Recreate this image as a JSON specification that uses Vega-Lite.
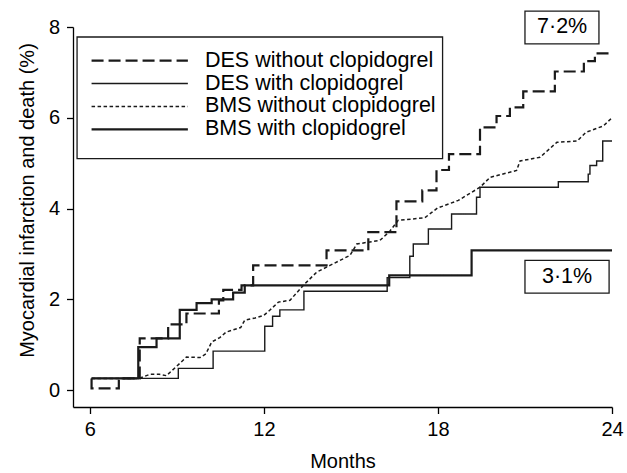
{
  "$schema": "https://vega.github.io/schema/vega-lite/v6.json",
  "width": 539,
  "height": 380,
  "autosize": {"type": "none"},
  "padding": {"left": 73, "top": 27, "right": 15, "bottom": 66},
  "background": "white",
  "config": {
    "view": {"stroke": null},
    "font": "Liberation Sans",
    "axis": {
      "domainColor": "#000", "tickColor": "#000", "labelColor": "#000", "titleColor": "#000",
      "labelFontSize": 20, "titleFontSize": 20, "titleFontWeight": "normal", "labelFlush": false,
      "grid": false, "tickSize": 6.5, "domainWidth": 1.3, "tickWidth": 1.3, "labelPadding": 6
    }
  },
  "datasets": {
    "curves": [
      {"s": "DES without clopidogrel", "m": 6.06, "v": 0.26},
      {"s": "DES without clopidogrel", "m": 6.06, "v": 0.04},
      {"s": "DES without clopidogrel", "m": 7.0, "v": 0.26},
      {"s": "DES without clopidogrel", "m": 7.72, "v": 1.14},
      {"s": "DES without clopidogrel", "m": 8.7, "v": 1.45},
      {"s": "DES without clopidogrel", "m": 9.33, "v": 1.69},
      {"s": "DES without clopidogrel", "m": 10.45, "v": 1.98},
      {"s": "DES without clopidogrel", "m": 10.6, "v": 2.21},
      {"s": "DES without clopidogrel", "m": 11.23, "v": 2.31},
      {"s": "DES without clopidogrel", "m": 11.63, "v": 2.75},
      {"s": "DES without clopidogrel", "m": 14.16, "v": 3.08},
      {"s": "DES without clopidogrel", "m": 15.6, "v": 3.48},
      {"s": "DES without clopidogrel", "m": 16.57, "v": 4.16},
      {"s": "DES without clopidogrel", "m": 17.46, "v": 4.4},
      {"s": "DES without clopidogrel", "m": 17.95, "v": 4.85},
      {"s": "DES without clopidogrel", "m": 18.38, "v": 5.2},
      {"s": "DES without clopidogrel", "m": 19.45, "v": 5.79},
      {"s": "DES without clopidogrel", "m": 20.02, "v": 6.04},
      {"s": "DES without clopidogrel", "m": 20.48, "v": 6.23},
      {"s": "DES without clopidogrel", "m": 20.94, "v": 6.58},
      {"s": "DES without clopidogrel", "m": 22.03, "v": 7.02},
      {"s": "DES without clopidogrel", "m": 23.03, "v": 7.25},
      {"s": "DES without clopidogrel", "m": 23.41, "v": 7.42},
      {"s": "DES without clopidogrel", "m": 24.0, "v": 7.42},
      {"s": "DES with clopidogrel", "m": 6.06, "v": 0.26},
      {"s": "DES with clopidogrel", "m": 9.05, "v": 0.48},
      {"s": "DES with clopidogrel", "m": 10.25, "v": 0.86},
      {"s": "DES with clopidogrel", "m": 12.03, "v": 1.41},
      {"s": "DES with clopidogrel", "m": 12.3, "v": 1.63},
      {"s": "DES with clopidogrel", "m": 12.55, "v": 1.77},
      {"s": "DES with clopidogrel", "m": 13.38, "v": 2.18},
      {"s": "DES with clopidogrel", "m": 16.25, "v": 2.48},
      {"s": "DES with clopidogrel", "m": 17.03, "v": 2.95},
      {"s": "DES with clopidogrel", "m": 17.15, "v": 3.22},
      {"s": "DES with clopidogrel", "m": 17.67, "v": 3.55},
      {"s": "DES with clopidogrel", "m": 18.47, "v": 3.88},
      {"s": "DES with clopidogrel", "m": 19.33, "v": 4.25},
      {"s": "DES with clopidogrel", "m": 19.45, "v": 4.47},
      {"s": "DES with clopidogrel", "m": 22.15, "v": 4.59},
      {"s": "DES with clopidogrel", "m": 23.18, "v": 4.76},
      {"s": "DES with clopidogrel", "m": 23.24, "v": 4.95},
      {"s": "DES with clopidogrel", "m": 23.47, "v": 5.05},
      {"s": "DES with clopidogrel", "m": 23.68, "v": 5.49},
      {"s": "DES with clopidogrel", "m": 24.0, "v": 5.49},
      {"s": "BMS with clopidogrel", "m": 6.06, "v": 0.26},
      {"s": "BMS with clopidogrel", "m": 7.67, "v": 0.95},
      {"s": "BMS with clopidogrel", "m": 8.3, "v": 1.14},
      {"s": "BMS with clopidogrel", "m": 9.1, "v": 1.77},
      {"s": "BMS with clopidogrel", "m": 9.68, "v": 1.92},
      {"s": "BMS with clopidogrel", "m": 10.2, "v": 2.0},
      {"s": "BMS with clopidogrel", "m": 10.94, "v": 2.15},
      {"s": "BMS with clopidogrel", "m": 11.34, "v": 2.31},
      {"s": "BMS with clopidogrel", "m": 16.32, "v": 2.53},
      {"s": "BMS with clopidogrel", "m": 19.16, "v": 3.08},
      {"s": "BMS with clopidogrel", "m": 24.0, "v": 3.08},
      {"s": "BMS without clopidogrel", "m": 6.06, "v": 0.26},
      {"s": "BMS without clopidogrel", "m": 7.7, "v": 0.26},
      {"s": "BMS without clopidogrel", "m": 8.07, "v": 0.35},
      {"s": "BMS without clopidogrel", "m": 8.4, "v": 0.35},
      {"s": "BMS without clopidogrel", "m": 8.64, "v": 0.32},
      {"s": "BMS without clopidogrel", "m": 9.1, "v": 0.59},
      {"s": "BMS without clopidogrel", "m": 9.33, "v": 0.73},
      {"s": "BMS without clopidogrel", "m": 9.8, "v": 0.72},
      {"s": "BMS without clopidogrel", "m": 10.0, "v": 0.8},
      {"s": "BMS without clopidogrel", "m": 10.2, "v": 1.06},
      {"s": "BMS without clopidogrel", "m": 10.48, "v": 1.16},
      {"s": "BMS without clopidogrel", "m": 10.7, "v": 1.28},
      {"s": "BMS without clopidogrel", "m": 11.2, "v": 1.38},
      {"s": "BMS without clopidogrel", "m": 11.34, "v": 1.54},
      {"s": "BMS without clopidogrel", "m": 11.7, "v": 1.59},
      {"s": "BMS without clopidogrel", "m": 12.0, "v": 1.65},
      {"s": "BMS without clopidogrel", "m": 12.2, "v": 1.76},
      {"s": "BMS without clopidogrel", "m": 12.5, "v": 1.94},
      {"s": "BMS without clopidogrel", "m": 12.9, "v": 1.98},
      {"s": "BMS without clopidogrel", "m": 13.36, "v": 2.31},
      {"s": "BMS without clopidogrel", "m": 13.82, "v": 2.6},
      {"s": "BMS without clopidogrel", "m": 14.28, "v": 2.75},
      {"s": "BMS without clopidogrel", "m": 14.97, "v": 2.97},
      {"s": "BMS without clopidogrel", "m": 15.2, "v": 3.22},
      {"s": "BMS without clopidogrel", "m": 16.0, "v": 3.3},
      {"s": "BMS without clopidogrel", "m": 16.34, "v": 3.5},
      {"s": "BMS without clopidogrel", "m": 16.63, "v": 3.74},
      {"s": "BMS without clopidogrel", "m": 17.55, "v": 3.8},
      {"s": "BMS without clopidogrel", "m": 17.98, "v": 4.01},
      {"s": "BMS without clopidogrel", "m": 18.7, "v": 4.18},
      {"s": "BMS without clopidogrel", "m": 19.45, "v": 4.47},
      {"s": "BMS without clopidogrel", "m": 19.8, "v": 4.69},
      {"s": "BMS without clopidogrel", "m": 20.71, "v": 4.84},
      {"s": "BMS without clopidogrel", "m": 20.83, "v": 5.05},
      {"s": "BMS without clopidogrel", "m": 21.52, "v": 5.13},
      {"s": "BMS without clopidogrel", "m": 22.1, "v": 5.46},
      {"s": "BMS without clopidogrel", "m": 22.8, "v": 5.49},
      {"s": "BMS without clopidogrel", "m": 23.1, "v": 5.68},
      {"s": "BMS without clopidogrel", "m": 23.7, "v": 5.82},
      {"s": "BMS without clopidogrel", "m": 24.0, "v": 6.0}
    ],
    "legend": [
      {"s": "DES without clopidogrel"},
      {"s": "DES with clopidogrel"},
      {"s": "BMS without clopidogrel"},
      {"s": "BMS with clopidogrel"}
    ]
  },
  "resolve": {"scale": {"y": "independent"}},
  "layer": [
    {
      "layer": [
        {
          "data": {"name": "curves"},
          "transform": [{"filter": "datum.s !== 'BMS without clopidogrel'"}],
          "mark": {"type": "line", "interpolate": "step-after", "color": "#1a1a1a", "strokeCap": "butt"},
          "encoding": {
            "x": {"field": "m", "type": "quantitative", "scale": {"domain": [5.42, 24], "nice": false, "zero": false},
                  "axis": {"values": [6, 12, 18, 24], "title": "Months", "titlePadding": 12, "orient": "bottom"}},
            "y": {"field": "v", "type": "quantitative", "scale": {"domain": [-0.37, 8], "nice": false, "zero": false},
                  "axis": {"values": [0, 2, 4, 6, 8], "labelPadding": 7, "title": "Myocardial infarction and death (%)", "titleX": -36, "titleY": 173, "titleAlign": "center"}},
            "detail": {"field": "s"},
            "strokeDash": {"condition": [
              {"test": "datum.s === 'DES without clopidogrel'", "value": [12, 5]}
            ], "value": [1, 0]},
            "strokeWidth": {"condition": [
              {"test": "datum.s === 'DES with clopidogrel'", "value": 1.4}
            ], "value": 2.2}
          }
        },
        {
          "data": {"name": "curves"},
          "transform": [{"filter": "datum.s === 'BMS without clopidogrel'"}],
          "mark": {"type": "line", "interpolate": "linear", "color": "#1a1a1a", "strokeCap": "butt", "strokeDash": [3.5, 2.5], "strokeWidth": 1.5},
          "encoding": {
            "x": {"field": "m", "type": "quantitative"},
            "y": {"field": "v", "type": "quantitative"}
          }
        },
        {
          "data": {"values": [{"label": "7·2%"}]},
          "mark": {"type": "rect", "fill": "white", "stroke": "#1a1a1a", "strokeWidth": 1.3},
          "encoding": {"x": {"datum": 21.0}, "x2": {"datum": 23.55}, "y": {"datum": 8.35}, "y2": {"datum": 7.63}}
        },
        {
          "data": {"values": [{"label": "7·2%"}]},
          "mark": {"type": "text", "fontSize": 21.5, "color": "#000", "align": "center", "baseline": "middle"},
          "encoding": {"x": {"datum": 22.28}, "y": {"datum": 7.99}, "text": {"field": "label"}}
        },
        {
          "data": {"values": [{"label": "3·1%"}]},
          "mark": {"type": "rect", "fill": "white", "stroke": "#1a1a1a", "strokeWidth": 1.3},
          "encoding": {"x": {"datum": 21.0}, "x2": {"datum": 23.9}, "y": {"datum": 2.86}, "y2": {"datum": 2.14}}
        },
        {
          "data": {"values": [{"label": "3·1%"}]},
          "mark": {"type": "text", "fontSize": 21.5, "color": "#000", "align": "center", "baseline": "middle"},
          "encoding": {"x": {"datum": 22.45}, "y": {"datum": 2.5}, "text": {"field": "label"}}
        },
        {
          "data": {"values": [{"box": "legend"}]},
          "mark": {"type": "rect", "fill": "white", "stroke": "#1a1a1a", "strokeWidth": 1.3},
          "encoding": {"x": {"datum": 5.56}, "x2": {"datum": 18.16}, "y": {"datum": 7.78}, "y2": {"datum": 5.1}}
        }
      ]
    },
    {
      "layer": [
        {
          "data": {"name": "legend"},
          "mark": {"type": "rule", "color": "#1a1a1a", "strokeCap": "butt"},
          "encoding": {
            "y": {"field": "s", "type": "nominal", "axis": null,
                  "scale": {"type": "point", "padding": 0, "domain": ["DES without clopidogrel", "DES with clopidogrel", "BMS without clopidogrel", "BMS with clopidogrel"], "range": [33.7, 102.3]}},
            "x": {"datum": 6.06},
            "x2": {"datum": 9.38},
            "strokeDash": {"condition": [
              {"test": "datum.s === 'DES without clopidogrel'", "value": [12, 5]},
              {"test": "datum.s === 'BMS without clopidogrel'", "value": [3.5, 2.5]}
            ], "value": [1, 0]},
            "strokeWidth": {"condition": [
              {"test": "datum.s === 'DES with clopidogrel'", "value": 1.4},
              {"test": "datum.s === 'BMS without clopidogrel'", "value": 1.4}
            ], "value": 2.2}
          }
        },
        {
          "data": {"name": "legend"},
          "mark": {"type": "text", "fontSize": 21.5, "color": "#000", "align": "left", "baseline": "middle"},
          "encoding": {
            "y": {"field": "s", "type": "nominal", "axis": null,
                  "scale": {"type": "point", "padding": 0, "domain": ["DES without clopidogrel", "DES with clopidogrel", "BMS without clopidogrel", "BMS with clopidogrel"], "range": [33.7, 102.3]}},
            "x": {"datum": 9.97},
            "text": {"field": "s"}
          }
        }
      ]
    }
  ]
}
